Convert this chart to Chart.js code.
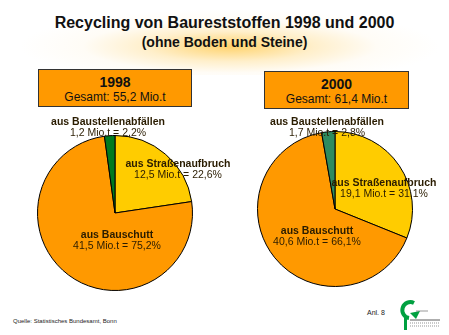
<!DOCTYPE html>
<html>
<head>
<meta charset="utf-8">
<script src="https://cdn.jsdelivr.net/npm/chart.js@4/dist/chart.umd.min.js"></script>
<style>
    html, body { margin: 0; padding: 0; background: #fff; }
    body { width: 449px; height: 335px; position: relative; overflow: hidden; font-family: Arial, "Liberation Sans", sans-serif; color: #111; }
    .glow { position: absolute; left: 20px; top: 0; width: 420px; height: 75px;
        background: radial-gradient(ellipse 50% 50% at 50% 62%, rgba(255,196,60,0.75) 0%, rgba(255,220,140,0.45) 40%, rgba(255,240,210,0.2) 70%, rgba(255,255,255,0) 100%); }
    .title { position: absolute; left: 0; width: 449px; text-align: center; font-weight: bold; white-space: nowrap; }
    .box { position: absolute; background: #ff9900; border: 1px solid #333; text-align: center; box-sizing: border-box; }
    .box .year { font-weight: bold; font-size: 14px; margin-top: 5px; line-height: 15px; }
    .box .sum { font-size: 12px; line-height: 14px; }
    .pie { position: absolute; }
    .lbl { position: absolute; transform: translate(-50%, -50%); text-align: center; white-space: nowrap; font-size: 10.5px; line-height: 11px; color: #2a1c00; z-index: 2; }
    .lbl b { display: block; }
    .foot { position: absolute; white-space: nowrap; color: #222; }
</style>
</head>
<body>
<div class="glow"></div>
<div class="title" style="top:14px;font-size:16px;">Recycling von Baureststoffen 1998 und 2000</div>
<div class="title" style="top:34px;font-size:14px;">(ohne Boden und Steine)</div>

<div class="box" style="left:38px;top:69px;width:154px;height:38px;"><div class="year" id="year0"></div><div class="sum" id="sum0"></div></div>
<div class="box" style="left:264px;top:71px;width:145px;height:38px;"><div class="year" id="year1"></div><div class="sum" id="sum1"></div></div>

<div class="pie" style="left:37px;top:135px;"><canvas id="pie1998" width="156" height="156"></canvas></div>
<div class="pie" style="left:257px;top:131px;"><canvas id="pie2000" width="156" height="156"></canvas></div>

<div class="foot" style="left:13px;top:318px;font-size:6px;">Quelle: Statistisches Bundesamt, Bonn</div>
<div class="foot" style="left:367px;top:309px;font-size:7px;">Anl. 8</div>
<svg style="position:absolute;left:396px;top:294px;" width="50" height="40">
    <path d="M 18 9 A 8 8 0 1 0 13 24" fill="none" stroke="#00a040" stroke-width="4"/>
    <path d="M 14 19 L 24 17 L 20 25 Z" fill="#00a040"/>
    <rect x="8" y="23" width="3" height="13" fill="#00a040"/>
    <line x1="20" y1="17" x2="32" y2="17" stroke="#555" stroke-width="0.6"/>
    <line x1="14" y1="26" x2="44" y2="26" stroke="#333" stroke-width="0.8"/>
    <line x1="14" y1="29" x2="44" y2="29" stroke="#666" stroke-width="0.7" stroke-dasharray="1 1"/>
    <line x1="14" y1="32" x2="44" y2="32" stroke="#666" stroke-width="0.7" stroke-dasharray="1 1"/>
</svg>

<script>
// Kategorien (Reihenfolge im Uhrzeigersinn ab 12 Uhr)
const categories = ['aus Straßenaufbruch', 'aus Bauschutt', 'aus Baustellenabfällen'];
const years = ['1998', '2000'];
const totals = [55.2, 61.4];

// Mengen in Mio.t
const values1998 = [12.5, 41.5, 1.2];
const values2000 = [19.1, 40.6, 1.7];

// Anteile in %
const percent1998 = [22.6, 75.2, 2.2];
const percent2000 = [31.1, 66.1, 2.8];

const colors1998 = ['#ffcc00', '#ff9900', '#007a1f'];
const colors2000 = ['#ffcc00', '#ff9900', '#2e8b5f'];

// Label-Mittelpunkte auf der Seite (nur Layout)
const labelPos1998 = [[178, 169], [117, 240], [108, 127]];
const labelPos2000 = [[384, 188], [317, 236], [327, 127]];

const fmt = (v) => v.toFixed(1).replace('.', ',');

function drawPie(canvasId, values, colors) {
    const ctx = document.getElementById(canvasId).getContext('2d');
    return new Chart(ctx, {
        type: 'pie',
        data: {
            labels: categories,
            datasets: [{
                data: values,
                backgroundColor: colors,
                borderColor: '#000',
                borderWidth: 1,
                hoverOffset: 0
            }]
        },
        options: {
            responsive: false,
            animation: false,
            events: [],
            layout: { padding: 0 },
            plugins: {
                legend: { display: false },
                tooltip: { enabled: false }
            }
        }
    });
}

function addLabels(values, percents, positions) {
    categories.forEach((name, i) => {
        const div = document.createElement('div');
        div.className = 'lbl';
        div.style.left = positions[i][0] + 'px';
        div.style.top = positions[i][1] + 'px';
        div.innerHTML = '<b>' + name + '</b>' + fmt(values[i]) + ' Mio.t = ' + fmt(percents[i]) + '%';
        document.body.appendChild(div);
    });
}

years.forEach((y, i) => {
    document.getElementById('year' + i).textContent = y;
    document.getElementById('sum' + i).textContent = 'Gesamt: ' + fmt(totals[i]) + ' Mio.t';
});

drawPie('pie1998', values1998, colors1998);
drawPie('pie2000', values2000, colors2000);
addLabels(values1998, percent1998, labelPos1998);
addLabels(values2000, percent2000, labelPos2000);
</script>
</body>
</html>
